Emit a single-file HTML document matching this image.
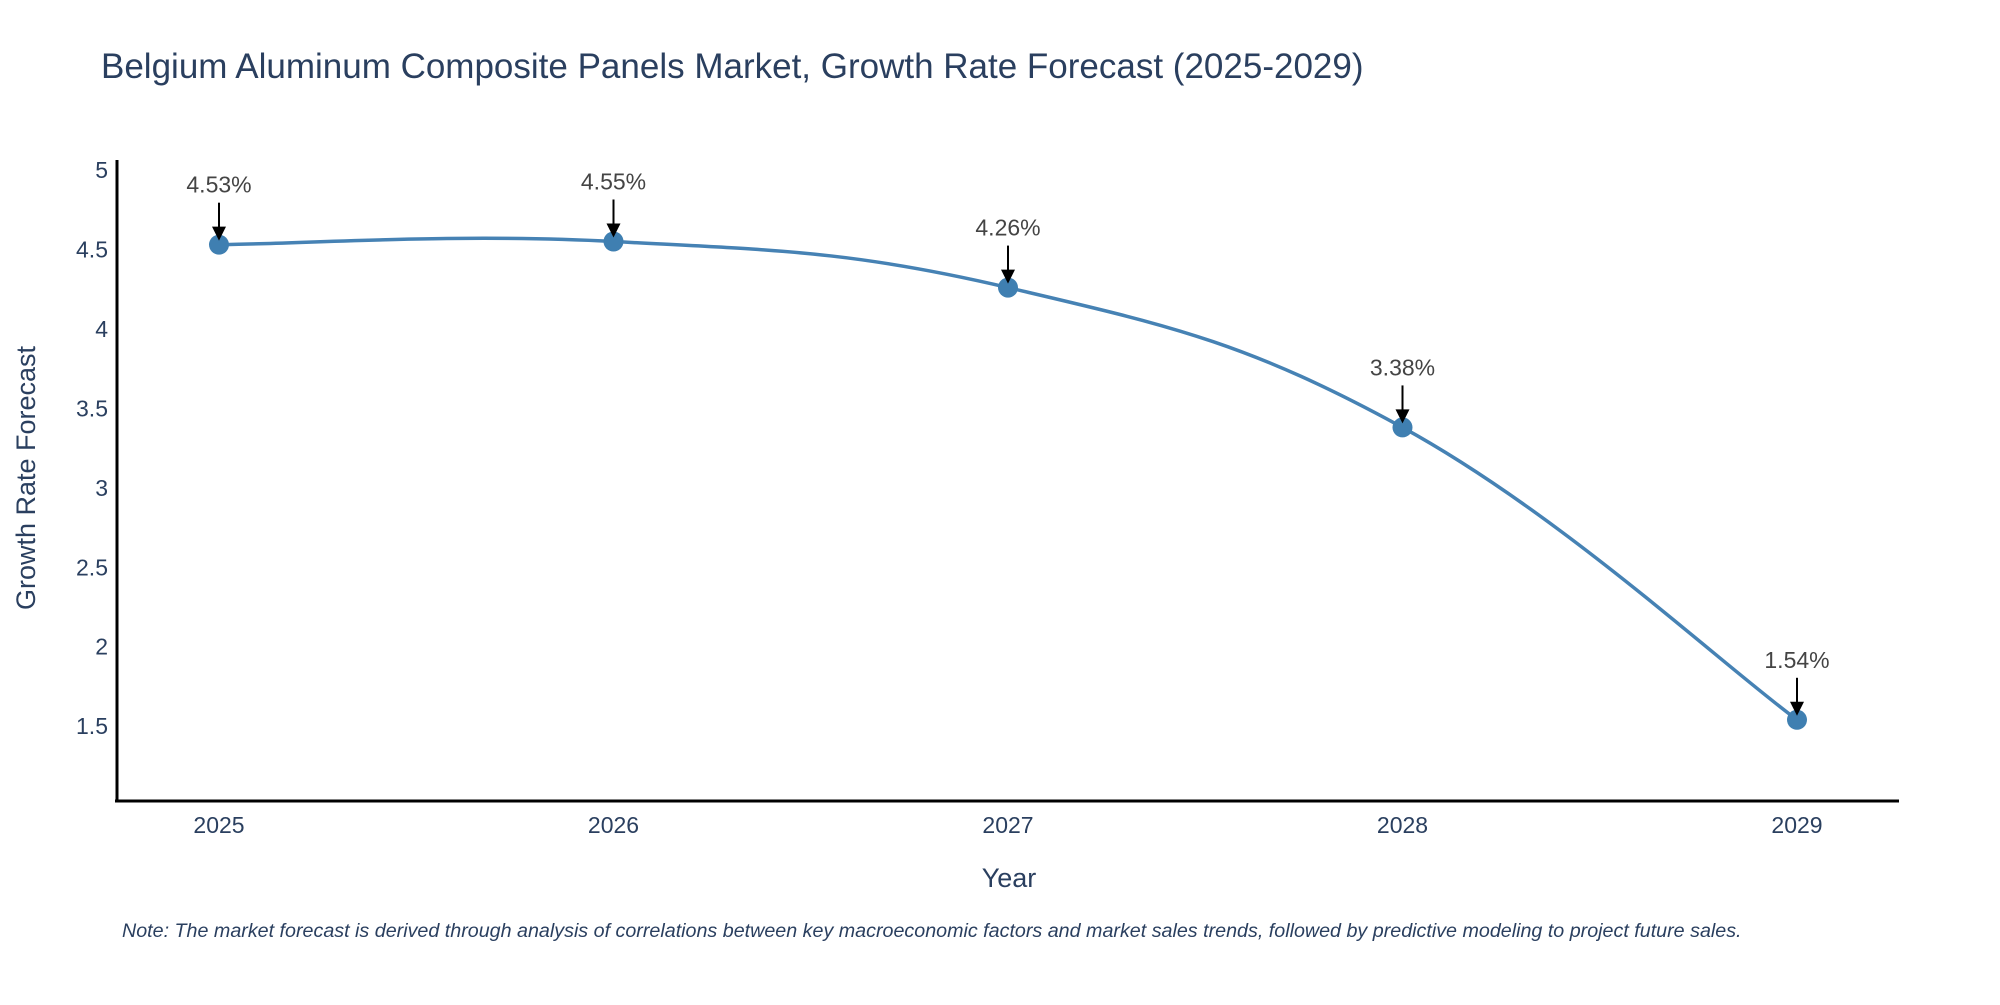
<!DOCTYPE html>
<html><head><meta charset="utf-8"><style>
body{margin:0;background:#fff;}
svg text{font-family:"Liberation Sans","DejaVu Sans",sans-serif;}
</style></head><body>
<svg id="chart" width="2000" height="1000" viewBox="0 0 2000 1000" xmlns="http://www.w3.org/2000/svg">
<rect width="2000" height="1000" fill="#fff"/>
<text x="101" y="78" font-size="35" fill="#2a3f5f">Belgium Aluminum Composite Panels Market, Growth Rate Forecast (2025-2029)</text>
<g id="yticks"></g>
<g id="xticks"></g>
<line x1="117" y1="160" x2="117" y2="802" stroke="#000" stroke-width="3"/>
<line x1="115" y1="801" x2="1899" y2="801" stroke="#000" stroke-width="3"/>
<g id="series"></g>
<g id="annots"></g>
<text transform="translate(35,478) rotate(-90)" text-anchor="middle" font-size="27" fill="#2a3f5f">Growth Rate Forecast</text>
<text x="1009" y="887" text-anchor="middle" font-size="27" fill="#2a3f5f">Year</text>
<text x="122" y="937" font-size="19.7" font-style="italic" fill="#2a3f5f">Note: The market forecast is derived through analysis of correlations between key macroeconomic factors and market sales trends, followed by predictive modeling to project future sales.</text>
</svg>
<script>
const years = ["2025","2026","2027","2028","2029"];
const values = [4.53, 4.55, 4.26, 3.38, 1.54];
const labels = ["4.53%","4.55%","4.26%","3.38%","1.54%"];
const yTicks = [1.5, 2, 2.5, 3, 3.5, 4, 4.5, 5];
const yTickLabels = ["1.5","2","2.5","3","3.5","4","4.5","5"];

const NS = "http://www.w3.org/2000/svg";
function xPos(i){ return 219 + i * (1797 - 219) / (years.length - 1); }
function yPos(v){ return 170 + (5 - v) * 158.9; }
function mk(tag, attrs, parent){ const e = document.createElementNS(NS, tag); for (const k in attrs) e.setAttribute(k, attrs[k]); parent.appendChild(e); return e; }

const yt = document.getElementById('yticks');
yTicks.forEach((v, i) => {
  const t = mk('text', {x: 108, y: yPos(v) + 8, 'text-anchor': 'end', 'font-size': 23, fill: '#2a3f5f'}, yt);
  
  
  t.textContent = yTickLabels[i];
});
const xt = document.getElementById('xticks');
years.forEach((y, i) => {
  const t = mk('text', {x: xPos(i), y: 833, 'text-anchor': 'middle', 'font-size': 23, fill: '#2a3f5f'}, xt);
  
  
  t.textContent = y;
});

const pts = values.map((v, i) => [xPos(i), yPos(v)]);
let d = `M${pts[0][0]},${pts[0][1]}`;
const s = 0.2;
for (let i = 0; i < pts.length - 1; i++) {
  const p0 = pts[Math.max(0, i - 1)], p1 = pts[i], p2 = pts[i + 1], p3 = pts[Math.min(pts.length - 1, i + 2)];
  const c1 = [p1[0] + (p2[0] - p0[0]) * s, p1[1] + (p2[1] - p0[1]) * s];
  const c2 = [p2[0] - (p3[0] - p1[0]) * s, p2[1] - (p3[1] - p1[1]) * s];
  d += ` C${c1[0]},${c1[1]} ${c2[0]},${c2[1]} ${p2[0]},${p2[1]}`;
}
const ser = document.getElementById('series');
const line = mk('path', {d: d, fill: 'none', stroke: '#4682b4', 'stroke-width': 3.5}, ser);


pts.forEach((p, i) => {
  const c = mk('circle', {cx: p[0], cy: p[1], r: 10, fill: '#3f7fb1'}, ser);
  
  
});

const an = document.getElementById('annots');
pts.forEach((p, i) => {
  const ln = mk('line', {x1: p[0], y1: p[1] - 42, x2: p[0], y2: p[1] - 16, stroke: '#000', 'stroke-width': 2}, an);
  
  
  const hd = mk('polygon', {points: `${p[0]-7},${p[1]-18} ${p[0]+7},${p[1]-18} ${p[0]},${p[1]-4}`, fill: '#000'}, an);
  
  
  const t = mk('text', {x: p[0], y: p[1] - 52, 'text-anchor': 'middle', 'font-size': 23, fill: '#444'}, an);
  
  
  t.textContent = labels[i];
});
</script>
</body></html>
